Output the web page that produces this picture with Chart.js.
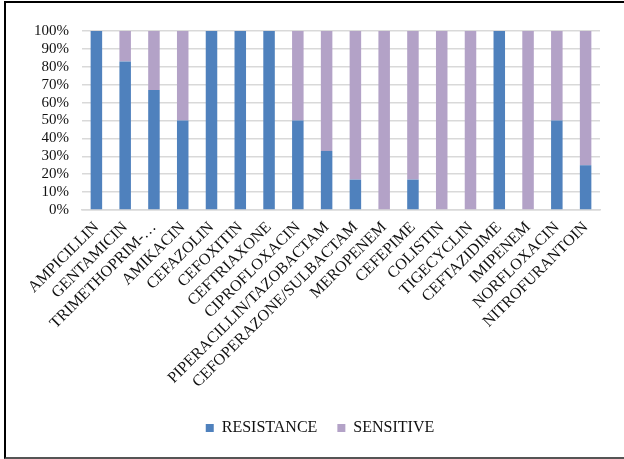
<!DOCTYPE html>
<html>
<head>
<meta charset="utf-8">
<script src="https://cdn.jsdelivr.net/npm/chart.js@4/dist/chart.umd.min.js"></script>
<style>
  html, body { margin: 0; padding: 0; background: #fff; overflow: hidden; }
  #wrap { position: relative; width: 624px; height: 459px; }
  #frame {
    position: absolute; left: 4px; top: 1px; width: 700px; height: 454px;
    border-left: 2px solid #000; border-top: 2px solid #000; border-bottom: 2px solid #555;
    pointer-events: none;
  }
  canvas { position: absolute; left: 0; top: 0; }
</style>
</head>
<body>
<div id="wrap">
  <canvas id="c" width="624" height="459"></canvas>
  <div id="frame"></div>
</div>
<script>
// Antibiotic susceptibility: share of isolates resistant vs sensitive (percent)
const antibiotics = [
  'AMPICILLIN', 'GENTAMICIN', 'TRIMETHOPRIM-…', 'AMIKACIN', 'CEFAZOLIN',
  'CEFOXITIN', 'CEFTRIAXONE', 'CIPROFLOXACIN', 'PIPERACILLIN/TAZOBACTAM',
  'CEFOPERAZONE/SULBACTAM', 'MEROPENEM', 'CEFEPIME', 'COLISTIN', 'TIGECYCLIN',
  'CEFTAZIDIME', 'IMIPENEM', 'NORFLOXACIN', 'NITROFURANTOIN'
];
const resistance = [100, 83, 67, 50, 100, 100, 100, 50, 33, 17, 0, 17, 0, 0, 100, 0, 50, 25];
const sensitive  = [0, 17, 33, 50, 0, 0, 0, 50, 67, 83, 100, 83, 100, 100, 0, 100, 50, 75];
const yTicks = [0, 10, 20, 30, 40, 50, 60, 70, 80, 90, 100];

const serif = '"Liberation Serif", "Times New Roman", serif';

// Centre the legend under the whole figure rather than under the canvas width
const legendShift = {
  id: 'legendShift',
  afterLayout(chart) {
    const lg = chart.legend;
    if (lg) { lg.left += 20; lg.right += 20; }
  }
};

new Chart(document.getElementById('c'), {
  type: 'bar',
  data: {
    labels: antibiotics,
    datasets: [
      { label: 'RESISTANCE', data: resistance, backgroundColor: '#4F81BD', borderWidth: 0 },
      { label: 'SENSITIVE', data: sensitive, backgroundColor: '#B3A2C7', borderWidth: 0 }
    ]
  },
  plugins: [legendShift],
  options: {
    responsive: false,
    animation: false,
    devicePixelRatio: 1,
    layout: { padding: { top: 31, right: 24, left: 0, bottom: 13 } },
    datasets: { bar: { categoryPercentage: 1, barPercentage: 0.4 } },
    plugins: {
      tooltip: { enabled: false },
      legend: {
        position: 'bottom',
        labels: {
          boxWidth: 8, boxHeight: 8, padding: 20,
          color: '#111',
          font: { family: serif, size: 16 }
        }
      }
    },
    scales: {
      x: {
        stacked: true,
        grid: { display: false, drawTicks: false },
        border: { display: true, color: '#d9d9d9', width: 1.5 },
        ticks: {
          autoSkip: false, maxRotation: 45, minRotation: 45, padding: 8,
          color: '#111', font: { family: serif, size: 16 }
        },
        afterFit: s => { s.height = 190; }
      },
      y: {
        stacked: true,
        min: 0, max: 100,
        afterBuildTicks: s => { s.ticks = yTicks.map(v => ({ value: v })); },
        grid: { color: '#d9d9d9', lineWidth: 1.5, drawTicks: false },
        border: { display: false },
        ticks: {
          autoSkip: false, stepSize: 10,
          padding: 13, color: '#111',
          font: { family: serif, size: 15 },
          callback: v => v + '%'
        },
        afterFit: s => { s.width = 82; }
      }
    }
  }
});
</script>
</body>
</html>
